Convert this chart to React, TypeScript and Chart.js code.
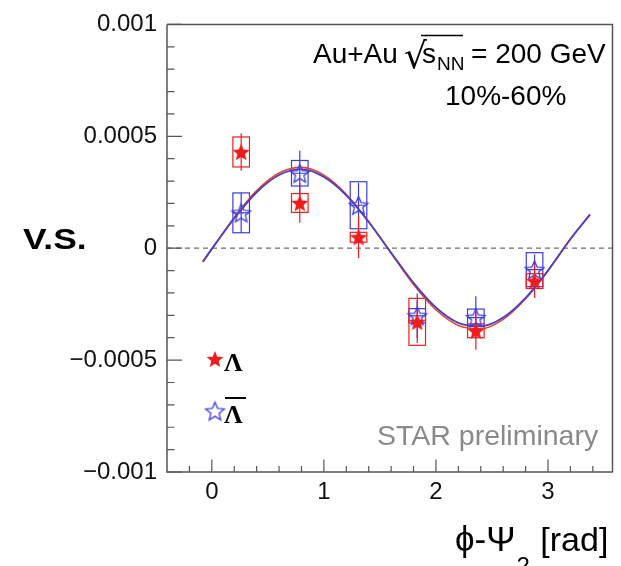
import React, { useEffect, useRef } from "react";
import { Chart, registerables } from "chart.js";

Chart.register(...registerables);

// ---- data ----
const phiBins = [0.262, 0.785, 1.309, 1.833, 2.356, 2.88];

const lambdaValues = [0.00043, 0.000202, 0.000049, -0.000329, -0.000369, -0.000147];
const lambdaStat = [0.000084, 0.000088, 0.000093, 0.000095, 0.000085, 0.000075];
const lambdaSys = [0.000067, 0.000042, 0.000022, 0.000105, 0.000031, 0.000033];

const antiLambdaValues = [0.000158, 0.000335, 0.000192, -0.000302, -0.00031, -0.000096];
const antiLambdaStat = [0.00009, 0.0001, 0.0001, 0.0001, 0.000095, 0.000068];
const antiLambdaSys = [0.000089, 0.000057, 0.000105, 0.000032, 0.000038, 0.000076];

const curvePhi = [-0.08, 0, 0.2, 0.4, 0.6, 0.8, 1.0, 1.2, 1.4, 1.6, 1.8, 2.0, 2.2, 2.4, 2.6, 2.8, 3.0, 3.2, 3.375];
const lambdaFit = [
  -0.000062, -0.000004, 0.000137, 0.000257, 0.000336, 0.000361, 0.000326, 0.000241, 0.000118,
  -0.000023, -0.000162, -0.000275, -0.000345, -0.00036, -0.000318, -0.000226, -0.0001, 0.000042, 0.000152,
];
const antiLambdaFit = [
  -0.00006, -0.000003, 0.000133, 0.00025, 0.000327, 0.000352, 0.000318, 0.000236, 0.000117,
  -0.00002, -0.000155, -0.000265, -0.000334, -0.000349, -0.00031, -0.000222, -0.0001, 0.00004, 0.00015,
];

const xTickValues = [0, 1, 2, 3];
const xTickLabels = ["0", "1", "2", "3"];
const yTickValues = [-0.001, -0.0005, 0, 0.0005, 0.001];
const yTickLabels = ["\u22120.001", "\u22120.0005", "0", "0.0005", "0.001"];

// ---- styling ----
const RED = "#f01c1c";
const BLUE = "#3c3cdc";
const RED_LINE = "#e8452e";
const BLUE_LINE = "#4a40c4";
const FRAME = "#555555";
const SANS = "'Liberation Sans', Arial, Helvetica, sans-serif";
const SERIF = "'Liberation Serif', 'Times New Roman', serif";
const BOX_HALF = 0.074;

function makeStar(outer: number, fill: string | null, stroke: string | null, lw: number) {
  const size = Math.ceil(outer * 2 + lw * 2 + 4);
  const c = document.createElement("canvas");
  c.width = size;
  c.height = size;
  const ctx = c.getContext("2d")!;
  ctx.translate(size / 2, size / 2 + outer * 0.095);
  ctx.beginPath();
  for (let i = 0; i < 10; i++) {
    const r = i % 2 === 0 ? outer : outer * 0.45;
    const a = -Math.PI / 2 + (i * Math.PI) / 5;
    ctx.lineTo(r * Math.cos(a), r * Math.sin(a));
  }
  ctx.closePath();
  if (fill) {
    ctx.fillStyle = fill;
    ctx.fill();
  }
  if (stroke) {
    ctx.strokeStyle = stroke;
    ctx.lineWidth = lw;
    ctx.lineJoin = "miter";
    ctx.stroke();
  }
  return c;
}

export default function App() {
  const ref = useRef<HTMLCanvasElement | null>(null);

  useEffect(() => {
    document.body.style.margin = "0";
    const canvas = ref.current;
    if (!canvas) return;

    const redStar = makeStar(9, RED, null, 0);
    const blueStar = makeStar(9.8, null, BLUE, 1.3);
    const redStarLegend = makeStar(8.8, RED, null, 0);
    const blueStarLegend = makeStar(9.8, null, BLUE, 1.3);

    const errorPlugin = {
      id: "errors",
      beforeDatasetsDraw(chart: any) {
        const { ctx, chartArea } = chart;
        const x = chart.scales.x;
        const y = chart.scales.y;
        ctx.save();
        // dashed zero line
        ctx.strokeStyle = "#707070";
        ctx.lineWidth = 1.2;
        ctx.setLineDash([5, 4]);
        const y0 = y.getPixelForValue(0);
        ctx.beginPath();
        ctx.moveTo(chartArea.left, y0);
        ctx.lineTo(chartArea.right, y0);
        ctx.stroke();
        ctx.setLineDash([]);

        const drawSeries = (vals: number[], stat: number[], sys: number[], color: string, hline: boolean) => {
          ctx.strokeStyle = color;
          ctx.lineWidth = 1.2;
          for (let i = 0; i < phiBins.length; i++) {
            const px = x.getPixelForValue(phiBins[i]);
            const l = x.getPixelForValue(phiBins[i] - BOX_HALF);
            const r = x.getPixelForValue(phiBins[i] + BOX_HALF);
            const t = y.getPixelForValue(vals[i] + sys[i]);
            const b = y.getPixelForValue(vals[i] - sys[i]);
            ctx.strokeRect(l, t, r - l, b - t);
            ctx.beginPath();
            ctx.moveTo(px, y.getPixelForValue(vals[i] + stat[i]));
            ctx.lineTo(px, y.getPixelForValue(vals[i] - stat[i]));
            if (hline) {
              const py = y.getPixelForValue(vals[i]);
              ctx.moveTo(l, py);
              ctx.lineTo(r, py);
            }
            ctx.stroke();
          }
        };
        drawSeries(antiLambdaValues, antiLambdaStat, antiLambdaSys, BLUE, true);
        drawSeries(lambdaValues, lambdaStat, lambdaSys, RED, false);
        ctx.restore();
      },
      afterDatasetsDraw(chart: any) {
        const { ctx, chartArea } = chart;
        const x = chart.scales.x;
        const y = chart.scales.y;
        ctx.save();
        ctx.strokeStyle = FRAME;
        ctx.lineWidth = 1.5;
        ctx.beginPath();
        ctx.moveTo(chartArea.left, chartArea.top);
        ctx.lineTo(chartArea.right - 0.5, chartArea.top);
        ctx.lineTo(chartArea.right - 0.5, chartArea.bottom);
        ctx.moveTo(chartArea.left, chartArea.top);
        ctx.lineTo(chartArea.left, chartArea.bottom);
        ctx.lineTo(chartArea.right, chartArea.bottom);
        ctx.stroke();
        // ticks (inside)
        ctx.lineWidth = 1.2;
        ctx.beginPath();
        for (let k = -10; k <= 10; k++) {
          const v = k * 0.0001;
          const py = y.getPixelForValue(v);
          const len = k % 5 === 0 ? 15 : 7.5;
          ctx.moveTo(chartArea.left, py);
          ctx.lineTo(chartArea.left + len, py);
        }
        for (let k = -1; k <= 17; k++) {
          const v = k * 0.2;
          const px = x.getPixelForValue(v);
          if (px <= chartArea.left + 1 || px >= chartArea.right - 1) continue;
          const len = k % 5 === 0 ? 12.5 : 6;
          ctx.moveTo(px, chartArea.bottom);
          ctx.lineTo(px, chartArea.bottom - len);
        }
        ctx.stroke();
        ctx.restore();
      },
      afterDraw(chart: any) {
        const { ctx } = chart;
        ctx.save();
        ctx.fillStyle = "#000";
        ctx.textBaseline = "alphabetic";
        ctx.textAlign = "left";

        // V.S.
        ctx.save();
        ctx.font = `bold 30px ${SANS}`;
        ctx.translate(23, 248.5);
        ctx.scale(1.18, 1);
        ctx.fillText("V.S.", 0, 0);
        ctx.restore();

        // Au+Au sqrt(s_NN) = 200 GeV
        ctx.font = `28px ${SANS}`;
        ctx.fillText("Au+Au", 313, 63);
        ctx.font = `36px 'DejaVu Sans', sans-serif`;
        ctx.fillText("\u221A", 404, 68);
        ctx.strokeStyle = "#000";
        ctx.lineWidth = 1.4;
        ctx.beginPath();
        ctx.moveTo(421, 35.5);
        ctx.lineTo(463, 35.5);
        ctx.stroke();
        ctx.font = `28px ${SANS}`;
        ctx.fillText("s", 422, 63);
        ctx.font = `19px ${SANS}`;
        ctx.fillText("NN", 437, 70);
        ctx.font = `28px ${SANS}`;
        ctx.fillText("= 200 GeV", 471, 63);
        ctx.fillText("10%-60%", 445, 105);

        // STAR preliminary
        ctx.fillStyle = "#8a8a8a";
        ctx.font = `28.5px ${SANS}`;
        ctx.fillText("STAR preliminary", 377, 445);

        // legend
        ctx.drawImage(redStarLegend, 215 - redStarLegend.width / 2, 359 - redStarLegend.height / 2);
        ctx.drawImage(blueStarLegend, 215 - blueStarLegend.width / 2, 411 - blueStarLegend.height / 2);
        ctx.fillStyle = "#000";
        ctx.font = `bold 26px ${SERIF}`;
        ctx.fillText("\u039B", 224, 370.5);
        ctx.fillText("\u039B", 224, 422.5);
        ctx.strokeStyle = "#000";
        ctx.lineWidth = 2;
        ctx.beginPath();
        ctx.moveTo(225, 398);
        ctx.lineTo(246, 398);
        ctx.stroke();

        // x title
        ctx.font = `35px ${SANS}`;
        ctx.textAlign = "left";
        let xx = 455;
        ctx.fillText("\u03D5-\u03A8", xx, 551);
        xx += ctx.measureText("\u03D5-\u03A8").width + 1;
        ctx.font = `24px ${SANS}`;
        ctx.fillText("2", xx, 574);
        xx += ctx.measureText("2").width + 1;
        ctx.font = `34px ${SANS}`;
        ctx.fillText(" [rad]", xx, 551);
        ctx.restore();
      },
    };

    const chart = new Chart(canvas, {
      type: "scatter",
      data: {
        datasets: [
          {
            label: "Lambda",
            data: phiBins.map((p, i) => ({ x: p, y: lambdaValues[i] })),
            pointStyle: redStar as any,
            pointRadius: 7,
            order: 0,
          },
          {
            label: "AntiLambda",
            data: phiBins.map((p, i) => ({ x: p, y: antiLambdaValues[i] })),
            pointStyle: blueStar as any,
            pointRadius: 7,
            order: 1,
          },
          {
            label: "AntiLambda fit",
            data: curvePhi.map((p, i) => ({ x: p, y: antiLambdaFit[i] })),
            showLine: true,
            borderColor: BLUE_LINE,
            borderWidth: 1.8,
            pointRadius: 0,
            cubicInterpolationMode: "monotone",
            order: 2,
          },
          {
            label: "Lambda fit",
            data: curvePhi.map((p, i) => ({ x: p, y: lambdaFit[i] })),
            showLine: true,
            borderColor: RED_LINE,
            borderWidth: 1.6,
            pointRadius: 0,
            cubicInterpolationMode: "monotone",
            order: 3,
          },
        ],
      },
      options: {
        animation: false,
        responsive: false,
        devicePixelRatio: 1,
        events: [],
        layout: { padding: { top: 20, right: 1, left: 0, bottom: 0 } },
        plugins: { legend: { display: false }, tooltip: { enabled: false } },
        scales: {
          x: {
            type: "linear",
            min: -0.4,
            max: 3.58,
            grid: { display: false, drawTicks: false },
            border: { display: false },
            afterBuildTicks: (scale: any) => {
              scale.ticks = xTickValues.map((v) => ({ value: v }));
            },
            afterFit: (scale: any) => {
              scale.height = 94;
            },
            ticks: {
              padding: 6,
              color: "#111",
              font: { family: SANS, size: 24 },
              callback: (value: any) => {
                const i = xTickValues.findIndex((v) => Math.abs(v - value) < 1e-9);
                return i >= 0 ? xTickLabels[i] : "";
              },
            },
          },
          y: {
            type: "linear",
            min: -0.001,
            max: 0.001,
            grid: { display: false, drawTicks: false },
            border: { display: false },
            afterBuildTicks: (scale: any) => {
              scale.ticks = yTickValues.map((v) => ({ value: v }));
            },
            afterFit: (scale: any) => {
              scale.width = 167;
            },
            ticks: {
              padding: 10,
              color: "#111",
              font: { family: SANS, size: 24 },
              callback: (value: any) => {
                const i = yTickValues.findIndex((v) => Math.abs(v - value) < 1e-12);
                return i >= 0 ? yTickLabels[i] : "";
              },
            },
          },
        },
      },
      plugins: [errorPlugin],
    });

    return () => chart.destroy();
  }, []);

  return (
    <div style={{ position: "fixed", left: 0, top: 0, width: 621, height: 566, background: "#fff" }}>
      <canvas ref={ref} width={621} height={566} style={{ display: "block", width: 621, height: 566 }} />
    </div>
  );
}
